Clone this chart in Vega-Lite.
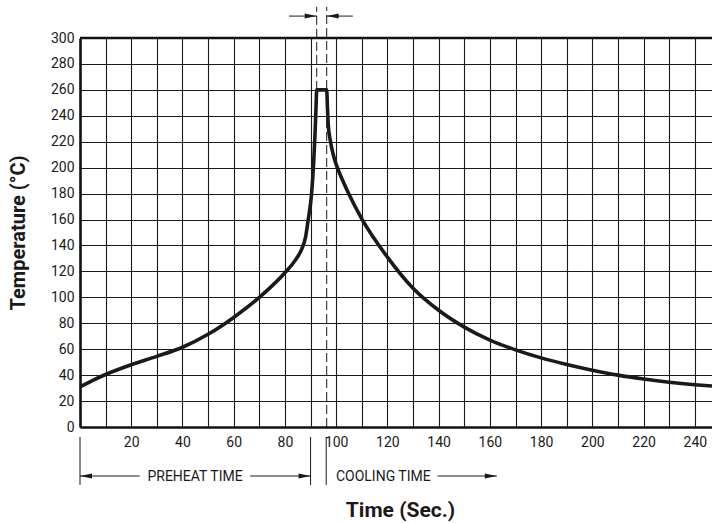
{
  "$schema": "https://vega.github.io/schema/vega-lite/v6.json",
  "autosize": {"type": "none"},
  "padding": {"left": 80, "top": 38, "right": 0, "bottom": 96},
  "width": 632,
  "height": 389,
  "background": "white",
  "config": {
    "view": {"stroke": null},
    "font": "Roboto",
    "axis": {
      "labelFont": "Roboto",
      "titleFont": "Roboto",
      "labelColor": "#1a1a1a",
      "titleColor": "#1a1a1a",
      "gridColor": "#1a1a1a",
      "gridOpacity": 1,
      "gridWidth": 1.1,
      "domainColor": "#111111",
      "domainWidth": 2.6,
      "ticks": false,
      "labelFontSize": 14,
      "labelOverlap": false,
      "titleFontWeight": "bold"
    }
  },
  "datasets": {
    "curve": [
      {"x": 0, "y": 31}, {"x": 5, "y": 36}, {"x": 10, "y": 40.5}, {"x": 20, "y": 48},
      {"x": 30, "y": 54.5}, {"x": 40, "y": 61.5}, {"x": 50, "y": 71.5}, {"x": 60, "y": 84.5},
      {"x": 70, "y": 100}, {"x": 80, "y": 119}, {"x": 84, "y": 128.5}, {"x": 86.5, "y": 137},
      {"x": 88, "y": 146}, {"x": 89.1, "y": 160}, {"x": 90.4, "y": 180}, {"x": 91.1, "y": 200},
      {"x": 91.7, "y": 224}, {"x": 92.1, "y": 245}, {"x": 92.4, "y": 260}, {"x": 96.3, "y": 260},
      {"x": 96.6, "y": 246}, {"x": 96.9, "y": 233}, {"x": 97.7, "y": 221}, {"x": 99, "y": 209},
      {"x": 100, "y": 202.5}, {"x": 102.8, "y": 189}, {"x": 105, "y": 179.5}, {"x": 110, "y": 160.5},
      {"x": 120, "y": 131}, {"x": 130, "y": 107}, {"x": 140, "y": 90}, {"x": 150, "y": 77},
      {"x": 160, "y": 67}, {"x": 170, "y": 59.5}, {"x": 180, "y": 53.3}, {"x": 190, "y": 48.2},
      {"x": 200, "y": 43.8}, {"x": 210, "y": 40}, {"x": 220, "y": 37}, {"x": 230, "y": 34.5},
      {"x": 240, "y": 32.6}, {"x": 246.7, "y": 31.6}
    ],
    "border": [{"x": 0, "x2": 246.7, "y": 300}],
    "dashed": [
      {"x": 92.4, "y": 260, "y2": 324},
      {"x": 96.3, "y": 0, "y2": 324}
    ],
    "bounds": [
      {"x": 0, "y": -7.7, "y2": -44.7},
      {"x": 90, "y": -7.7, "y2": -44.7},
      {"x": 96.1, "y": -7.7, "y2": -44.7}
    ],
    "arrowLines": [
      {"x": 0, "x2": 23.3, "y": -37.8},
      {"x": 66.4, "x2": 90, "y": -37.8},
      {"x": 139.6, "x2": 162.7, "y": -37.8},
      {"x": 81.6, "x2": 92.4, "y": 316.9},
      {"x": 96.3, "x2": 106.5, "y": 316.9}
    ],
    "headsRight": [
      {"x": 90, "y": -37.8},
      {"x": 162.7, "y": -37.8},
      {"x": 92.4, "y": 316.9}
    ],
    "headsLeft": [
      {"x": 0, "y": -37.8},
      {"x": 96.3, "y": 316.9}
    ],
    "labelsCenter": [{"x": 44.9, "y": -37.8, "text": "PREHEAT TIME"}],
    "labelsLeft": [{"x": 99.9, "y": -37.8, "text": "COOLING TIME"}]
  },
  "layer": [
    {
      "data": {"name": "curve"},
      "mark": {"type": "line", "color": "#1a1a1a", "strokeWidth": 3.6, "interpolate": "monotone", "strokeJoin": "miter", "strokeCap": "butt"},
      "encoding": {
        "x": {
          "field": "x", "type": "quantitative",
          "scale": {"domain": [0, 246.7], "nice": false, "zero": false},
          "axis": {
            "values": [0, 10, 20, 30, 40, 50, 60, 70, 80, 90, 100, 110, 120, 130, 140, 150, 160, 170, 180, 190, 200, 210, 220, 230, 240],
            "tickCount": 40,
            "labelExpr": "datum.value % 20 == 0 && datum.value > 0 ? datum.label : ''",
            "labelPadding": 8,
            "labelFlush": false,
            "title": "Time (Sec.)",
            "titleFontSize": 21,
            "titleX": 320,
            "titleY": 89,
            "titleBaseline": "alphabetic",
            "titleAlign": "center"
          }
        },
        "y": {
          "field": "y", "type": "quantitative",
          "scale": {"domain": [0, 300], "nice": false, "zero": false},
          "axis": {
            "values": [0, 20, 40, 60, 80, 100, 120, 140, 160, 180, 200, 220, 240, 260, 280, 300],
            "tickCount": 40,
            "labelPadding": 6,
            "title": "Temperature (°C)",
            "titleFontSize": 20,
            "titleX": -56,
            "titleY": 194.5,
            "titleAngle": -90,
            "titleBaseline": "alphabetic",
            "titleAlign": "center"
          }
        }
      }
    },
    {
      "data": {"name": "border"},
      "mark": {"type": "rule", "color": "#111111", "strokeWidth": 2.4},
      "encoding": {
        "x": {"field": "x", "type": "quantitative"},
        "x2": {"field": "x2"},
        "y": {"field": "y", "type": "quantitative"}
      }
    },
    {
      "data": {"name": "dashed"},
      "mark": {"type": "rule", "color": "#1a1a1a", "strokeWidth": 1, "strokeDash": [9, 4]},
      "encoding": {
        "x": {"field": "x", "type": "quantitative"},
        "y": {"field": "y", "type": "quantitative"},
        "y2": {"field": "y2"}
      }
    },
    {
      "data": {"name": "bounds"},
      "mark": {"type": "rule", "color": "#1a1a1a", "strokeWidth": 1},
      "encoding": {
        "x": {"field": "x", "type": "quantitative"},
        "y": {"field": "y", "type": "quantitative"},
        "y2": {"field": "y2"}
      }
    },
    {
      "data": {"name": "arrowLines"},
      "mark": {"type": "rule", "color": "#1a1a1a", "strokeWidth": 1},
      "encoding": {
        "x": {"field": "x", "type": "quantitative"},
        "x2": {"field": "x2"},
        "y": {"field": "y", "type": "quantitative"}
      }
    },
    {
      "data": {"name": "headsRight"},
      "mark": {"type": "point", "shape": "M0,0L-2,-0.42L-2,0.42Z", "size": 144, "filled": true, "color": "#1a1a1a", "opacity": 1},
      "encoding": {
        "x": {"field": "x", "type": "quantitative"},
        "y": {"field": "y", "type": "quantitative"}
      }
    },
    {
      "data": {"name": "headsLeft"},
      "mark": {"type": "point", "shape": "M0,0L2,-0.42L2,0.42Z", "size": 144, "filled": true, "color": "#1a1a1a", "opacity": 1},
      "encoding": {
        "x": {"field": "x", "type": "quantitative"},
        "y": {"field": "y", "type": "quantitative"}
      }
    },
    {
      "data": {"name": "labelsCenter"},
      "mark": {"type": "text", "fontSize": 14, "align": "center", "baseline": "middle", "color": "#1a1a1a", "dy": 1},
      "encoding": {
        "x": {"field": "x", "type": "quantitative"},
        "y": {"field": "y", "type": "quantitative"},
        "text": {"field": "text"}
      }
    },
    {
      "data": {"name": "labelsLeft"},
      "mark": {"type": "text", "fontSize": 14, "align": "left", "baseline": "middle", "color": "#1a1a1a", "dy": 1},
      "encoding": {
        "x": {"field": "x", "type": "quantitative"},
        "y": {"field": "y", "type": "quantitative"},
        "text": {"field": "text"}
      }
    }
  ]
}
